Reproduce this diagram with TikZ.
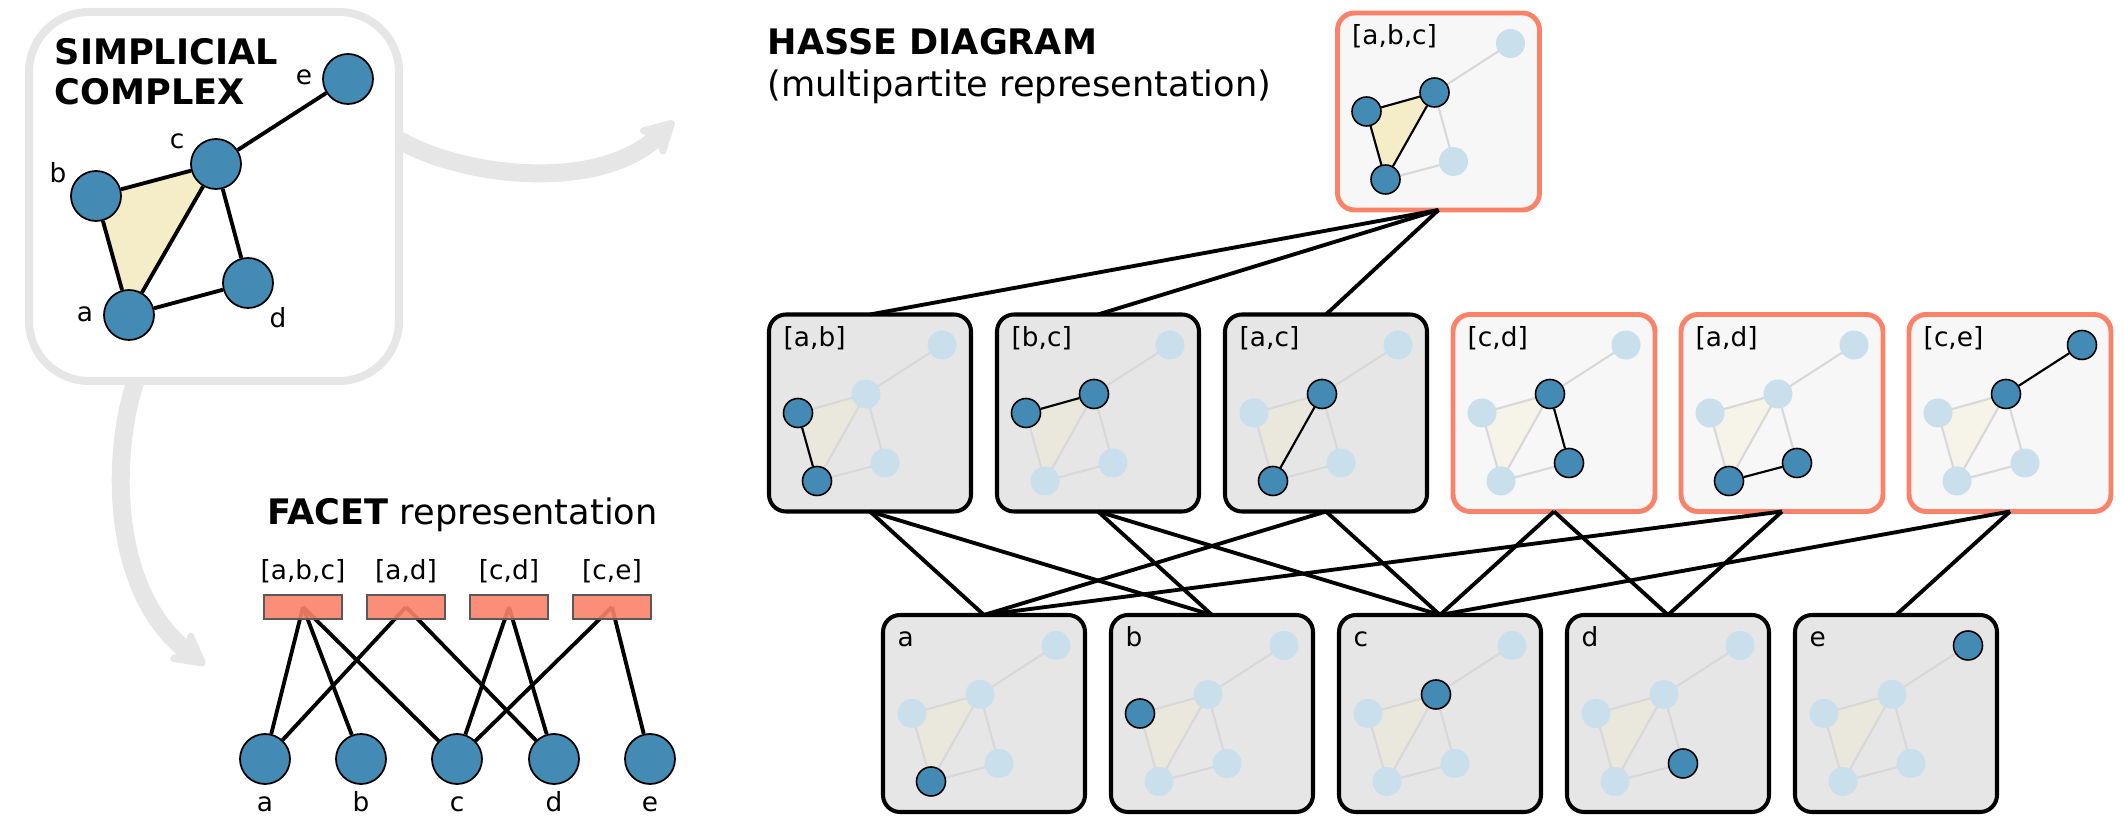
\documentclass[tikz,border=0pt]{standalone}
\usepackage{fontspec}
\setmainfont{DejaVu Sans}
\usetikzlibrary {arrows.meta,
                 backgrounds,
                 positioning}
\definecolor{nodeblue}{RGB}{67,139,180}
\definecolor{fadeblue}{RGB}{201,223,235}
\definecolor{facetred}{RGB}{250,130,105}
\definecolor{beige}{RGB}{245,236,200}
\definecolor{panelgray}{RGB}{230,230,230}
\definecolor{fadeline}{RGB}{216,216,216}
\definecolor{offwhite}{RGB}{247,247,247}
\tikzset{
        title/.style={inner sep=0pt, align=left,
                      font=\fontsize{10}{11.4}\selectfont\bfseries},
        subtitle/.style={inner sep=0pt, font=\fontsize{10}{11.4}\selectfont},
        lbl/.style={inner sep=0pt, font=\fontsize{7.5}{9}\selectfont},
        vtx/.style={circle, draw, fill=nodeblue, line width=0.5pt,
                    minimum size=0.5cm, inner sep=0pt},
        link/.style={line width=1.1pt},
        facet/.style={draw=black!65, fill=facetred, fill opacity=0.9,
                      minimum width=0.78cm, minimum height=0.24cm,
                      inner sep=0pt, line width=0.6pt},
        hbox/.style={draw, rounded corners=0.17cm, minimum width=2.02cm,
                     minimum height=1.97cm, inner sep=0pt, outer sep=0pt,
                     line width=1.15pt, fill=panelgray},
        hfacet/.style={hbox, draw=facetred, fill=offwhite, line width=1.4pt},
        boxlbl/.style={lbl, anchor=base west},
        fadevtx/.style={circle, fill=fadeblue, minimum size=0.29cm, inner sep=0pt},
        hlvtx/.style={fadevtx, draw, fill=nodeblue, line width=0.45pt},
        hledge/.style={line width=0.6pt},
        bigarrow/.style={draw=panelgray, line width=0.18cm,
                         -{Stealth[length=4.2mm, width=4.6mm, inset=1.4mm, round]}},
        minicx/.pic={
          \fill[beige, opacity=0.3] (-0.53,-0.68) -- (-0.72,0) -- (-0.04,0.19) -- cycle;
          \draw[fadeline, line width=0.6pt] (-0.53,-0.68) -- (-0.72,0) -- (-0.04,0.19) -- cycle
               (-0.04,0.19) -- (0.15,-0.50) -- (-0.53,-0.68) (-0.04,0.19) -- (0.72,0.68);
          \node[fadevtx] (-a) at (-0.53,-0.68) {};
          \node[fadevtx] (-b) at (-0.72,0) {};
          \node[fadevtx] (-c) at (-0.04,0.19) {};
          \node[fadevtx] (-d) at (0.15,-0.50) {};
          \node[fadevtx] (-e) at (0.72,0.68) {};
        },
}

\begin{document}
\begin{tikzpicture}
    \useasboundingbox (0,0) rectangle (21.24,-8.21);

    % simplicial complex
    \node[draw=panelgray, line width=0.08cm, rounded corners=0.6cm,
          minimum width=3.70cm, minimum height=3.69cm, outer sep=0pt] (scx) at (2.14,-1.965) {};
    \node[title, anchor=north west] (scxtitle) at (0.54,-0.38) {SIMPLICIAL\\COMPLEX};

    \node[vtx] (sa) at (1.29,-3.15) {};
    \node[vtx] (sb) at (0.96,-1.96) {};
    \node[vtx] (sc) at (2.16,-1.64) {};
    \node[vtx] (sd) at (2.48,-2.83) {};
    \node[vtx] (se) at (3.48,-0.79) {};

    \node[lbl] (lsa) at (0.85,-3.14) {a};
    \node[lbl] (lsb) at (0.58,-1.725) {b};
    \node[lbl] (lsc) at (1.77,-1.415) {c};
    \node[lbl] (lsd) at (2.78,-3.18) {d};
    \node[lbl] (lse) at (3.04,-0.775) {e};

    \begin{scope}[on background layer]
        \fill[beige] (sa.center) -- (sb.center) -- (sc.center) -- cycle;
    \end{scope}
    \draw[link] (sa) -- (sb);
    \draw[link] (sb) -- (sc);
    \draw[link] (sa) -- (sc);
    \draw[link] (sc) -- (sd);
    \draw[link] (sa) -- (sd);
    \draw[link] (sc) -- (se);

    % arrows out of the complex
    \coordinate (tohasse) at (6.74,-1.21);
    \coordinate (tofacet) at (2.05,-6.65);
    \draw[bigarrow] (scx.17) .. controls (4.65,-1.78) and (6.0,-1.92) .. (tohasse);
    \draw[bigarrow] (scx.247) .. controls (1.12,-4.5) and (1.08,-5.9) .. (tofacet);

    % facet representation
    \node[subtitle, anchor=base west] (facettitle) at (2.67,-5.25) {\textbf{FACET} representation};

    \node[facet] (fabc) at (3.03,-6.07) {};
    \node[facet] (fad) at (4.06,-6.07) {};
    \node[facet] (fcd) at (5.09,-6.07) {};
    \node[facet] (fce) at (6.12,-6.07) {};

    \node[vtx] (fa) at (2.65,-7.59) {};
    \node[vtx] (fb) at (3.61,-7.59) {};
    \node[vtx] (fc) at (4.57,-7.59) {};
    \node[vtx] (fd) at (5.54,-7.59) {};
    \node[vtx] (fe) at (6.50,-7.59) {};

    \foreach \f/\t in {abc/{[a,b,c]}, ad/{[a,d]}, cd/{[c,d]}, ce/{[c,e]}}
        \node[lbl, anchor=base] (lf\f) at ([yshift=0.27cm]f\f) {\t};
    \foreach \v in {a, b, c, d, e}
        \node[lbl, anchor=base] (lf\v) at ([yshift=-0.53cm]f\v) {\v};

    \begin{scope}[on background layer]
        \foreach \f/\v in {abc/a, abc/b, abc/c, ad/a, ad/d, cd/c, cd/d, ce/c, ce/e}
            \draw[link] (f\f.center) -- (f\v);
    \end{scope}

    % hasse diagram
    \node[title, anchor=base west] (hassetitle) at (7.67,-0.55) {HASSE DIAGRAM};
    \node[subtitle, anchor=base west] (hassesub) at (7.67,-0.97) {(multipartite representation)};

    \node[hfacet] (habc) at (14.385,-1.115) {};

    \node[hbox] (hab) at (8.70,-4.13) {};
    \node[hbox, right=0.26cm of hab] (hbc) {};
    \node[hbox, right=0.26cm of hbc] (hac) {};
    \node[hfacet, right=0.26cm of hac] (hcd) {};
    \node[hfacet, right=0.26cm of hcd] (had) {};
    \node[hfacet, right=0.26cm of had] (hce) {};

    \node[hbox] (ha) at (9.84,-7.135) {};
    \node[hbox, right=0.26cm of ha] (hb) {};
    \node[hbox, right=0.26cm of hb] (hc) {};
    \node[hbox, right=0.26cm of hc] (hd) {};
    \node[hbox, right=0.26cm of hd] (he) {};

    \foreach \b/\t in {abc/{[a,b,c]}, ab/{[a,b]}, bc/{[b,c]}, ac/{[a,c]}, cd/{[c,d]},
                       ad/{[a,d]}, ce/{[c,e]}, a/a, b/b, c/c, d/d, e/e}
        \node[boxlbl] (t\b) at ([shift={(0.14,-0.32)}]h\b.north west) {\t};

    \foreach \b in {abc, ab, bc, ac, cd, ad, ce, a, b, c, d, e}
        \pic (m\b) at (h\b) {minicx};

    % highlighted faces
    \fill[beige] (mabc-a.center) -- (mabc-b.center) -- (mabc-c.center) -- cycle;
    \draw[hledge] (mabc-a) -- (mabc-b) -- (mabc-c) -- (mabc-a);
    \foreach \v in {a, b, c}
        \node[hlvtx] (habc-\v) at (mabc-\v) {};

    \foreach \b/\u/\v in {ab/a/b, bc/b/c, ac/a/c, cd/c/d, ad/a/d, ce/c/e}{
        \draw[hledge] (m\b-\u) -- (m\b-\v);
        \node[hlvtx] (h\b-\u) at (m\b-\u) {};
        \node[hlvtx] (h\b-\v) at (m\b-\v) {};
    }
    \foreach \v in {a, b, c, d, e}
        \node[hlvtx] (h\v-\v) at (m\v-\v) {};

    \foreach \u/\l in {abc/ab, abc/bc, abc/ac, ab/a, ab/b, bc/b, bc/c, ac/a, ac/c,
                       cd/c, cd/d, ad/a, ad/d, ce/c, ce/e}
        \draw[link] (h\u.south) -- (h\l.north);

\end{tikzpicture}
\end{document}
